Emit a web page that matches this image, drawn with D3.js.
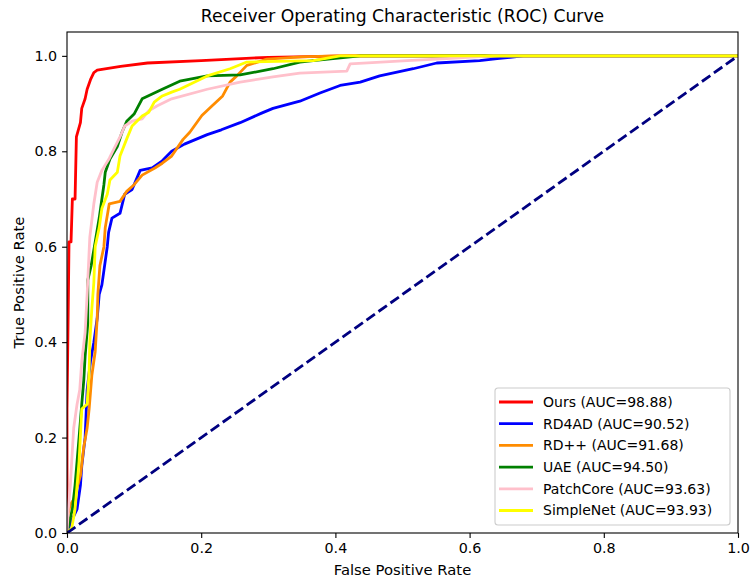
<!DOCTYPE html>
<html>
<head>
<meta charset="utf-8">
<script src="https://cdn.jsdelivr.net/npm/d3@7"></script>
<style>
  body { margin: 0; background: #fff; }
  text { font-family: "DejaVu Sans", sans-serif; }
</style>
</head>
<body>
<div id="chart"></div>
<script>
// ROC curve points: [fpr, tpr]
const ours = [[0,0],[0,0.26],[0.002,0.49],[0.003,0.61],[0.006,0.61],[0.008,0.70],[0.012,0.70],[0.014,0.83],[0.02,0.86],[0.022,0.89],[0.027,0.91],[0.03,0.93],[0.035,0.95],[0.04,0.965],[0.045,0.97],[0.08,0.978],[0.12,0.985],[0.2,0.99],[0.3,0.997],[0.42,1],[1,1]];
const rd4ad = [[0,0],[0.005,0.02],[0.015,0.05],[0.02,0.1],[0.022,0.14],[0.027,0.2],[0.03,0.3],[0.035,0.36],[0.04,0.4],[0.045,0.45],[0.048,0.5],[0.052,0.52],[0.055,0.55],[0.06,0.6],[0.062,0.63],[0.067,0.66],[0.079,0.67],[0.086,0.71],[0.097,0.72],[0.109,0.76],[0.127,0.765],[0.142,0.78],[0.156,0.8],[0.175,0.815],[0.209,0.835],[0.23,0.845],[0.258,0.86],[0.29,0.88],[0.307,0.89],[0.347,0.905],[0.377,0.922],[0.407,0.938],[0.437,0.945],[0.466,0.958],[0.516,0.973],[0.551,0.985],[0.615,0.99],[0.641,0.994],[0.68,1],[1,1]];
const rdpp = [[0,0],[0,0.03],[0.005,0.06],[0.01,0.07],[0.02,0.12],[0.025,0.18],[0.03,0.22],[0.033,0.26],[0.037,0.33],[0.042,0.38],[0.045,0.45],[0.046,0.5],[0.049,0.56],[0.055,0.6],[0.057,0.64],[0.063,0.69],[0.079,0.695],[0.089,0.716],[0.1,0.73],[0.112,0.75],[0.131,0.765],[0.142,0.775],[0.156,0.79],[0.173,0.825],[0.183,0.84],[0.201,0.875],[0.216,0.895],[0.232,0.916],[0.243,0.945],[0.253,0.958],[0.268,0.98],[0.298,0.993],[0.35,0.998],[0.4,1],[1,1]];
const uae = [[0,0],[0.003,0.02],[0.008,0.05],[0.012,0.1],[0.015,0.15],[0.018,0.2],[0.022,0.27],[0.025,0.32],[0.027,0.37],[0.031,0.44],[0.031,0.53],[0.036,0.56],[0.042,0.61],[0.048,0.66],[0.051,0.69],[0.055,0.73],[0.057,0.756],[0.064,0.784],[0.075,0.81],[0.082,0.84],[0.089,0.863],[0.1,0.878],[0.112,0.91],[0.127,0.92],[0.142,0.93],[0.168,0.947],[0.209,0.958],[0.258,0.96],[0.307,0.973],[0.347,0.987],[0.367,0.99],[0.437,1],[1,1]];
const patchcore = [[0,0],[0.002,0.05],[0.005,0.1],[0.007,0.15],[0.01,0.22],[0.015,0.27],[0.019,0.3],[0.022,0.36],[0.027,0.42],[0.03,0.5],[0.034,0.62],[0.04,0.69],[0.045,0.735],[0.052,0.76],[0.063,0.785],[0.07,0.805],[0.079,0.83],[0.086,0.853],[0.097,0.863],[0.112,0.868],[0.122,0.885],[0.134,0.895],[0.156,0.91],[0.209,0.93],[0.258,0.945],[0.307,0.956],[0.347,0.964],[0.417,0.968],[0.422,0.983],[0.507,0.99],[0.566,0.994],[0.635,1],[1,1]];
const simplenet = [[0,0],[0.007,0.01],[0.012,0.05],[0.015,0.1],[0.018,0.15],[0.022,0.26],[0.03,0.27],[0.033,0.34],[0.034,0.4],[0.037,0.47],[0.04,0.525],[0.042,0.6],[0.048,0.64],[0.052,0.68],[0.06,0.71],[0.064,0.74],[0.075,0.756],[0.079,0.79],[0.089,0.826],[0.097,0.853],[0.112,0.874],[0.122,0.882],[0.13,0.903],[0.142,0.916],[0.156,0.924],[0.168,0.93],[0.209,0.958],[0.243,0.973],[0.268,0.987],[0.367,0.99],[0.407,1],[1,1]];

const names = ["Ours", "RD4AD", "RD++", "UAE", "PatchCore", "SimpleNet"];
const aucs = ["98.88", "90.52", "91.68", "94.50", "93.63", "93.93"];
const colors = ["red", "blue", "darkorange", "green", "pink", "yellow"];
const curves = [ours, rd4ad, rdpp, uae, patchcore, simplenet];
const xTicks = [0, 0.2, 0.4, 0.6, 0.8, 1.0];
const yTicks = [0, 0.2, 0.4, 0.6, 0.8, 1.0];

const W = 751, H = 583;
const margin = {top: 32, right: 13, bottom: 50, left: 67};
const width = W - margin.left - margin.right;
const height = H - margin.top - margin.bottom;

const svg = d3.select("#chart").append("svg")
    .attr("width", W)
    .attr("height", H);

const g = svg.append("g")
    .attr("transform", `translate(${margin.left},${margin.top})`);

const x = d3.scaleLinear().domain([0, 1]).range([0, width]);
const y = d3.scaleLinear().domain([0, 1.05]).range([height, 0]);

// clip lines to the axes box
g.append("defs").append("clipPath").attr("id", "clip")
    .append("rect").attr("width", width).attr("height", height);

const line = d3.line().x(d => x(d[0])).y(d => y(d[1]));

const plot = g.append("g").attr("clip-path", "url(#clip)");

curves.forEach((c, i) => {
    plot.append("path")
        .datum(c)
        .attr("d", line)
        .attr("fill", "none")
        .attr("stroke", colors[i])
        .attr("stroke-width", 2.8)
        .attr("stroke-linejoin", "round");
});

// chance line
plot.append("path")
    .datum([[0, 0], [1, 1]])
    .attr("d", line)
    .attr("fill", "none")
    .attr("stroke", "navy")
    .attr("stroke-width", 2.8)
    .attr("stroke-dasharray", "10.3,4.4");

// axes
const xAxis = g.append("g")
    .attr("transform", `translate(0,${height})`)
    .call(d3.axisBottom(x).tickValues(xTicks).tickFormat(d3.format(".1f")).tickSizeOuter(0).tickSize(4.9).tickPadding(4.5));
const yAxis = g.append("g")
    .call(d3.axisLeft(y).tickValues(yTicks).tickFormat(d3.format(".1f")).tickSizeOuter(0).tickSize(4.9).tickPadding(4.9));

[xAxis, yAxis].forEach(a => {
    a.selectAll("text").style("font-size", "14.3px").attr("fill", "black").style("font-family", "DejaVu Sans");
    a.selectAll(".tick line").attr("stroke", "black").attr("stroke-width", 1.1);
    a.select(".domain").remove();
});

// frame
g.append("rect")
    .attr("width", width)
    .attr("height", height)
    .attr("fill", "none")
    .attr("stroke", "black")
    .attr("stroke-width", 1.1);

// title and labels
svg.append("text")
    .attr("x", margin.left + width / 2)
    .attr("y", 22)
    .attr("text-anchor", "middle")
    .style("font-size", "17.2px")
    .text("Receiver Operating Characteristic (ROC) Curve");

svg.append("text")
    .attr("x", margin.left + width / 2)
    .attr("y", 575)
    .attr("text-anchor", "middle")
    .style("font-size", "14.8px")
    .text("False Positive Rate");

svg.append("text")
    .attr("transform", `translate(24,${margin.top + height / 2}) rotate(-90)`)
    .attr("text-anchor", "middle")
    .style("font-size", "14.8px")
    .text("True Positive Rate");

// legend
const legend = svg.append("g").attr("transform", "translate(495,388)");
legend.append("rect")
    .attr("width", 235)
    .attr("height", 137)
    .attr("rx", 3)
    .attr("fill", "white")
    .attr("fill-opacity", 0.8)
    .attr("stroke", "#cccccc")
    .attr("stroke-width", 1.1);

names.forEach((n, i) => {
    const row = legend.append("g").attr("transform", `translate(0,${14 + i * 21.7})`);
    row.append("line")
        .attr("x1", 4).attr("x2", 38)
        .attr("stroke", colors[i])
        .attr("stroke-width", 2.8);
    row.append("text")
        .attr("x", 48)
        .attr("dy", "0.35em")
        .style("font-size", "14px")
        .text(`${n} (AUC=${aucs[i]})`);
});
</script>
</body>
</html>
